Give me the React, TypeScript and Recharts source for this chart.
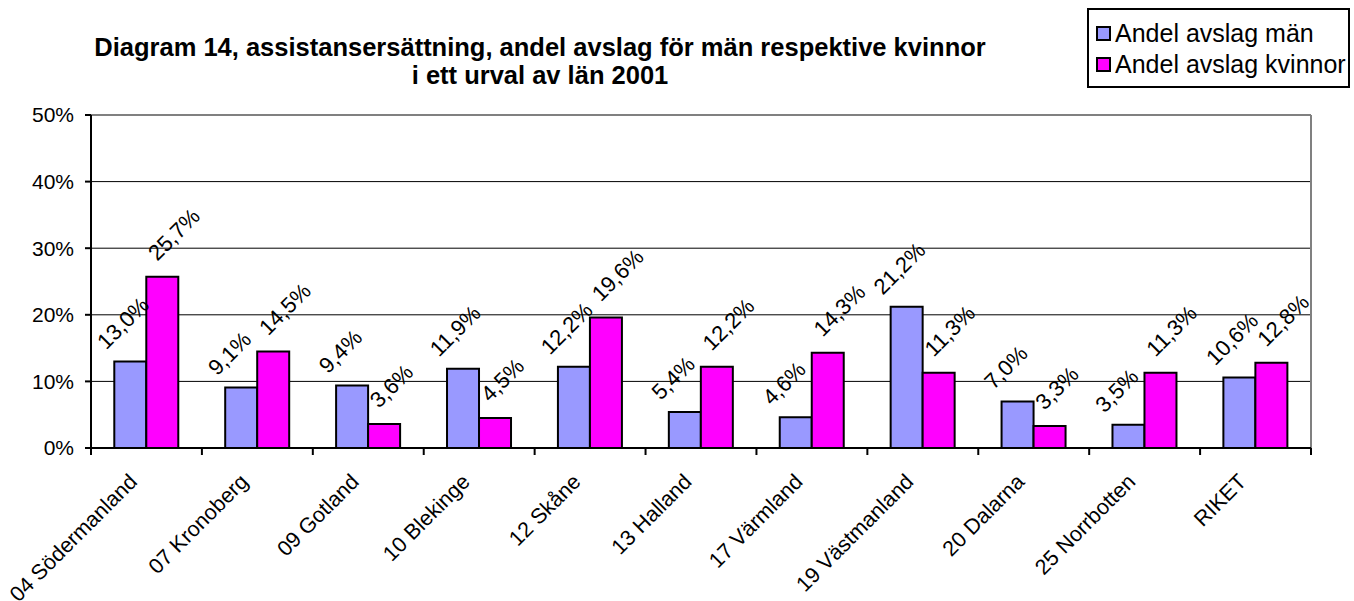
import React from 'react';
import { BarChart, Bar, XAxis, YAxis, CartesianGrid, ReferenceLine, LabelList } from 'recharts';

const categories = ['04 Södermanland', '07 Kronoberg', '09 Gotland', '10 Blekinge', '12 Skåne', '13 Halland', '17 Värmland', '19 Västmanland', '20 Dalarna', '25 Norrbotten', 'RIKET'];
const menValues = [13.0, 9.1, 9.4, 11.9, 12.2, 5.4, 4.6, 21.2, 7.0, 3.5, 10.6];
const womenValues = [25.7, 14.5, 3.6, 4.5, 19.6, 12.2, 14.3, 11.3, 3.3, 11.3, 12.8];
const yTicks = [0, 10, 20, 30, 40, 50];
const seriesNames = ['Andel avslag män', 'Andel avslag kvinnor'];
const seriesColors = ['#9999FF', '#FF00FF'];
const titleLines = ['Diagram 14, assistansersättning, andel avslag för män respektive kvinnor', 'i ett urval av län 2001'];

const data = categories.map((name, i) => ({ name, men: menValues[i], women: womenValues[i] }));

const FONT = '"Liberation Sans", Arial, sans-serif';
const fmt = (v: number) => v.toFixed(1).replace('.', ',') + '%';

const makeLabel = (dx: number, dy: number) => (props: any) => {
  const { x, y, width, value } = props;
  const px = Number(x) + Number(width) / 2 + dx;
  const py = Number(y) + dy;
  return (
    <text x={px} y={py} transform={`rotate(-45, ${px}, ${py})`} textAnchor="start" fontSize={22} fontFamily={FONT} fill="#000">
      {fmt(Number(value))}
    </text>
  );
};

const XTick = (props: any) => {
  const { x, y, payload, index, visibleTicksCount } = props;
  const off = payload && payload.offset ? payload.offset : 0;
  const tx = x - 8;
  const ty = y + 35;
  return (
    <g>
      <line x1={x - off} x2={x - off} y1={y} y2={y + 7} stroke="#000" strokeWidth={2} />
      {index === visibleTicksCount - 1 && <line x1={x + off} x2={x + off} y1={y} y2={y + 7} stroke="#000" strokeWidth={2} />}
      <text x={tx} y={ty} transform={`rotate(-45, ${tx}, ${ty})`} textAnchor="end" fontSize={21.5} fontFamily={FONT} fill="#000">
        {payload.value}
      </text>
    </g>
  );
};

export default function App() {
  return (
    <div style={{ position: 'absolute', left: 0, top: 0, width: 1354, height: 601, background: '#fff', fontFamily: FONT }}>
      <div style={{ position: 'absolute', left: 40, width: 1000, top: 33, textAlign: 'center', fontWeight: 'bold', fontSize: 25.5, lineHeight: '28px', color: '#000' }}>
        <div>{titleLines[0]}</div>
        <div>{titleLines[1]}</div>
      </div>
      <div style={{ position: 'absolute', left: 1087, top: 8, width: 263, height: 80, boxSizing: 'border-box', border: '2px solid #000', background: '#fff', padding: '8px 0 0 7px', fontSize: 25, lineHeight: '31px', color: '#000' }}>
        {seriesNames.map((n, i) => (
          <div key={n} style={{ display: 'flex', alignItems: 'center', whiteSpace: 'nowrap', height: 31 }}>
            <span style={{ display: 'inline-block', width: 11, height: 11, background: seriesColors[i], border: '2px solid #000', marginRight: 4 }} />
            <span>{n}</span>
          </div>
        ))}
      </div>
      <BarChart width={1354} height={601} data={data} margin={{ top: 115, right: 43, left: 31, bottom: 0 }} barCategoryGap="21%" barGap={0} style={{ position: 'absolute', left: 0, top: 0 }}>
        <CartesianGrid horizontal={true} vertical={false} stroke="#000" strokeWidth={1} />
        <XAxis dataKey="name" height={153} interval={0} axisLine={{ stroke: '#000', strokeWidth: 2 }} tickLine={false} tickSize={0} tickMargin={0} tick={<XTick />} />
        <YAxis width={60} domain={[0, 50]} ticks={yTicks} interval={0} tickFormatter={(v: number) => `${v}%`} axisLine={{ stroke: '#000', strokeWidth: 2 }} tickLine={{ stroke: '#000', strokeWidth: 2 }} tickSize={6} tickMargin={11} tick={{ fontSize: 21, fontFamily: FONT, fill: '#000' }} />
        <ReferenceLine y={50} stroke="#808080" strokeWidth={2} />
        <ReferenceLine x="RIKET" position="end" stroke="#808080" strokeWidth={2} />
        <Bar dataKey="men" name={seriesNames[0]} fill={seriesColors[0]} stroke="#000" strokeWidth={2} isAnimationActive={false}>
          <LabelList dataKey="men" content={makeLabel(-24, -11)} />
        </Bar>
        <Bar dataKey="women" name={seriesNames[1]} fill={seriesColors[1]} stroke="#000" strokeWidth={2} isAnimationActive={false}>
          <LabelList dataKey="women" content={makeLabel(-5, -15)} />
        </Bar>
      </BarChart>
    </div>
  );
}
